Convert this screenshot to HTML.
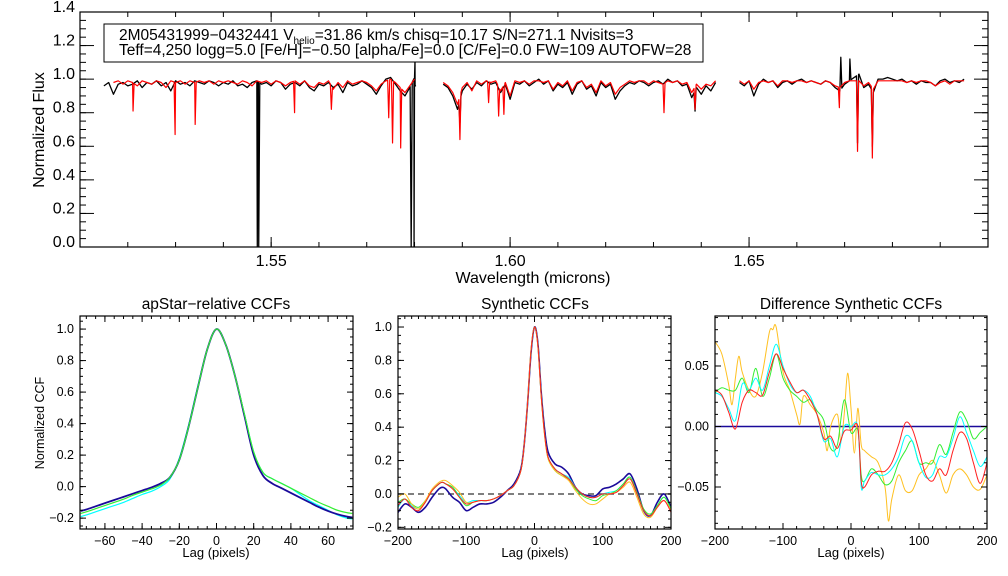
<!DOCTYPE html>
<html><head><meta charset="utf-8"><style>
html,body{margin:0;padding:0;background:#fff;}
svg{display:block;font-family:"Liberation Sans",Arial,sans-serif;}
</style></head><body>
<svg id="fig" width="1008" height="576" viewBox="0 0 1008 576" xmlns="http://www.w3.org/2000/svg">
<rect width="1008" height="576" fill="#fff"/>
<g id="infobox">
<rect x="104" y="24" width="599" height="38" fill="#fff" stroke="#000" stroke-width="1"/>
<text x="119" y="40" font-size="15.5">2M05431999−0432441  V<tspan font-size="10" dy="4">helio</tspan><tspan dy="-4">=31.86 km/s  chisq=10.17  S/N=271.1  Nvisits=3</tspan></text>
<text x="119" y="55" font-size="15.5">Teff=4,250 logg=5.0 [Fe/H]=−0.50 [alpha/Fe]=0.0 [C/Fe]=0.0 FW=109 AUTOFW=28</text>
</g>
<text x="0" y="0" font-size="16" text-anchor="middle" transform="translate(44,130) rotate(-90)">Normalized Flux</text>
<text x="533" y="283" font-size="16" text-anchor="middle">Wavelength (microns)</text>
<text x="216" y="309" font-size="15.5" text-anchor="middle">apStar−relative CCFs</text>
<text x="535" y="309" font-size="15.5" text-anchor="middle">Synthetic CCFs</text>
<text x="851" y="309" font-size="15.5" text-anchor="middle">Difference Synthetic CCFs</text>
<text x="0" y="0" font-size="12.5" text-anchor="middle" transform="translate(44,423) rotate(-90)">Normalized CCF</text>
<text x="216" y="557" font-size="13" text-anchor="middle">Lag (pixels)</text>
<text x="535" y="557" font-size="13" text-anchor="middle">Lag (pixels)</text>
<text x="851" y="557" font-size="13" text-anchor="middle">Lag (pixels)</text>
</svg>
<script>
// ---------- TOP SPECTRUM DATA ----------
const seg1Start = 1.515, seg2Start = 1.586, seg3Start = 1.648, gridStep = 0.001;
const obsSeg1 = [0.96,0.98,0.91,0.97,0.98,0.96,0.97,0.99,0.95,0.98,0.97,0.99,0.96,0.98,0.93,0.99,0.97,0.98,0.96,0.99,0.98,0.97,0.99,0.98,0.96,0.98,0.97,0.99,0.96,0.97,0.95,0.98,0.99,0.97,0.98,0.96,0.99,0.98,0.94,0.97,0.98,0.96,0.99,0.95,0.93,0.97,0.96,0.98,0.95,0.97,0.92,0.98,0.96,0.97,0.99,0.97,0.95,0.91,0.96,1.00,1.01,0.97,0.93,0.90,0.95,1.01];
const modSeg1 = [null,null,0.98,0.99,0.97,0.99,0.98,0.96,0.99,0.98,0.97,0.99,0.98,0.95,0.99,0.98,0.99,0.97,0.99,0.98,0.99,0.98,0.99,0.97,0.99,0.98,0.99,0.98,0.97,0.99,0.98,0.96,0.99,0.98,0.99,0.97,0.99,0.98,0.96,0.98,0.99,0.97,0.99,0.96,0.95,0.98,0.97,0.99,0.94,0.98,0.95,0.99,0.97,0.98,0.99,0.98,0.96,0.93,0.97,0.99,1.00,0.98,0.95,0.92,0.96,1.00];
const obsSeg2 = [0.97,0.95,0.90,0.82,0.93,0.97,0.94,0.98,0.96,0.99,0.97,0.98,0.92,0.97,0.88,0.98,0.97,0.99,0.96,0.98,1.00,0.97,0.99,0.93,0.97,0.95,0.98,0.91,0.97,0.99,0.94,0.96,0.90,0.98,0.95,0.97,0.88,0.93,0.96,0.98,0.97,0.99,0.98,0.96,0.98,0.99,0.97,1.00,0.98,0.99,0.96,0.97,0.89,0.95,0.91,0.96,0.93,0.98];
const modSeg2 = [0.98,0.96,0.92,0.85,0.95,0.98,0.93,0.99,0.97,0.99,0.98,0.99,0.93,0.98,0.90,0.99,0.98,0.99,0.97,0.99,0.99,0.98,0.99,0.94,0.98,0.96,0.99,0.93,0.98,0.99,0.95,0.97,0.92,0.99,0.96,0.98,0.91,0.95,0.97,0.99,0.98,0.99,0.99,0.97,0.99,0.98,0.97,0.99,0.98,0.99,0.97,0.98,0.92,0.97,0.94,0.97,0.96,0.99];
const obsSeg3 = [0.98,0.96,0.99,0.90,0.97,1.00,0.98,0.99,0.95,0.98,0.99,0.97,0.99,1.00,0.98,0.99,0.98,0.97,0.99,0.98,0.95,0.93,0.97,0.99,1.01,1.03,0.95,0.97,0.92,1.00,1.00,1.01,1.00,0.99,1.00,0.98,0.99,0.97,0.99,0.98,0.98,0.96,0.99,1.00,0.98,0.99,0.98,1.00];
const modSeg3 = [0.99,0.97,0.99,0.94,0.98,0.99,0.98,0.99,0.96,0.99,0.99,0.98,0.99,0.99,0.98,0.99,0.98,0.97,0.99,0.98,0.96,0.95,0.98,0.99,0.99,0.99,0.96,0.98,0.94,0.99,0.99,0.99,0.99,0.99,0.99,0.98,0.99,0.98,0.99,0.99,0.98,0.96,0.98,0.99,0.97,0.99,0.99,0.99];
const modLineWave = [1.5211,1.5299,1.5341,1.5549,1.5626,1.5746,1.5754,1.5771,1.5895,1.5955,1.5976,1.5987,1.6322,1.6387,1.6689,1.6727,1.6758];
const modLineDepth = [0.81,0.67,0.73,0.80,0.82,0.77,0.62,0.59,0.64,0.86,0.78,0.79,0.80,0.82,0.83,0.57,0.53];
const obsLineWave = [1.5471,1.5474,1.5793,1.5799,1.5801,1.5895,1.6387,1.6692,1.6711,1.6727,1.6758];
const obsLineDepth = [0.0,0.0,0.0,0.0,1.11,0.74,0.81,1.13,1.12,0.62,0.60];
const topXTicks = [1.55,1.60,1.65];
const topYTicks = [0.0,0.2,0.4,0.6,0.8,1.0,1.2,1.4];

// ---------- CCF PANEL 1 ----------
const lag1 = [-73,-70,-65,-60,-55,-50,-45,-40,-35,-30,-25,-20,-15,-10,-5,0,5,10,15,20,25,30,35,40,45,50,55,60,65,70,73];
const ccf1Navy = [-0.155,-0.145,-0.125,-0.105,-0.085,-0.065,-0.045,-0.025,-0.005,0.02,0.06,0.17,0.38,0.63,0.87,1.0,0.9,0.7,0.45,0.2,0.07,0.02,-0.01,-0.04,-0.07,-0.10,-0.13,-0.155,-0.175,-0.19,-0.195];
const ccf1Green = [-0.17,-0.16,-0.14,-0.12,-0.10,-0.08,-0.055,-0.035,-0.015,0.01,0.06,0.17,0.38,0.63,0.87,1.0,0.9,0.7,0.46,0.22,0.09,0.05,0.02,-0.01,-0.04,-0.07,-0.10,-0.125,-0.15,-0.165,-0.17];
const ccf1Cyan = [-0.19,-0.18,-0.16,-0.14,-0.12,-0.10,-0.075,-0.05,-0.03,0.0,0.05,0.18,0.39,0.64,0.87,1.0,0.9,0.7,0.46,0.22,0.09,0.05,0.02,-0.01,-0.05,-0.09,-0.12,-0.15,-0.18,-0.20,-0.205];
const ccf1XTicks = [-60,-40,-20,0,20,40,60];
const ccf1YTicks = [-0.2,0.0,0.2,0.4,0.6,0.8,1.0];

// ---------- CCF PANEL 2 ----------
const lag2 = [-200,-190,-180,-170,-160,-150,-140,-135,-130,-120,-110,-100,-90,-80,-70,-60,-50,-40,-30,-20,-15,-10,-5,0,5,10,15,20,30,40,50,60,70,80,90,100,110,120,130,140,150,160,170,180,190,200];
const ccf2Navy = [-0.11,-0.06,-0.08,-0.11,-0.08,-0.02,0.03,0.04,0.03,-0.02,-0.05,-0.10,-0.08,-0.06,-0.06,-0.05,-0.02,0.02,0.06,0.15,0.30,0.55,0.85,1.0,0.90,0.60,0.38,0.25,0.18,0.16,0.12,0.04,0.0,-0.01,-0.01,0.03,0.04,0.06,0.09,0.12,0.03,-0.10,-0.13,-0.05,0.0,-0.08];
const ccf2Cyan = [-0.08,-0.03,-0.07,-0.09,-0.05,0.02,0.06,0.07,0.06,0.04,-0.01,-0.05,-0.04,-0.04,-0.04,-0.03,-0.01,0.02,0.05,0.14,0.30,0.55,0.86,1.0,0.89,0.58,0.35,0.22,0.15,0.12,0.10,0.04,0.0,-0.02,-0.02,0.0,0.01,0.02,0.06,0.10,0.0,-0.10,-0.13,-0.07,-0.02,-0.09];
const ccf2Green = [-0.05,-0.03,-0.06,-0.08,-0.04,0.02,0.06,0.07,0.06,0.04,-0.02,-0.07,-0.05,-0.04,-0.04,-0.03,-0.01,0.02,0.05,0.14,0.30,0.55,0.86,1.0,0.89,0.58,0.35,0.21,0.14,0.11,0.09,0.03,-0.01,-0.03,-0.04,-0.01,0.0,0.02,0.06,0.10,0.01,-0.09,-0.12,-0.07,-0.02,-0.09];
const ccf2Yellow = [-0.02,0.0,-0.06,-0.09,-0.04,0.03,0.07,0.08,0.08,0.05,0.01,-0.05,-0.05,-0.04,-0.04,-0.03,-0.01,0.02,0.05,0.14,0.30,0.56,0.87,1.0,0.88,0.57,0.34,0.21,0.14,0.11,0.08,0.02,-0.03,-0.06,-0.06,-0.03,0.0,0.01,0.04,0.07,-0.02,-0.12,-0.14,-0.08,-0.04,-0.10];
const ccf2Red = [-0.07,-0.03,-0.08,-0.10,-0.05,0.02,0.06,0.07,0.06,0.03,-0.02,-0.06,-0.05,-0.04,-0.04,-0.03,-0.01,0.02,0.05,0.14,0.30,0.55,0.86,1.0,0.89,0.58,0.35,0.22,0.15,0.12,0.09,0.04,0.0,-0.02,-0.02,0.0,0.0,0.01,0.05,0.09,0.0,-0.10,-0.13,-0.08,-0.04,-0.11];
const ccf2XTicks = [-200,-100,0,100,200];
const ccf2YTicks = [-0.2,0.0,0.2,0.4,0.6,0.8,1.0];

// ---------- CCF PANEL 3 ----------
const lag3 = [-200,-190,-180,-170,-160,-150,-140,-130,-120,-110,-100,-90,-80,-70,-60,-50,-40,-30,-20,-10,0,10,15,20,30,40,50,60,70,80,90,100,110,120,130,140,150,160,170,180,190,200];
const diffRed = [0.030,0.026,0.012,-0.002,0.020,0.030,0.028,0.026,0.045,0.060,0.048,0.037,0.028,0.030,0.022,0.010,-0.010,-0.008,-0.018,-0.004,-0.003,0.000,-0.045,-0.050,-0.040,-0.037,-0.037,-0.030,-0.015,0.003,-0.002,-0.020,-0.040,-0.045,-0.035,-0.040,-0.020,-0.005,-0.010,-0.030,-0.047,-0.030];
const diffCyan = [0.028,0.025,0.015,0.005,0.035,0.030,0.040,0.030,0.050,0.068,0.050,0.035,0.028,0.030,0.025,0.010,-0.012,-0.010,-0.025,0.000,0.000,0.000,-0.050,-0.045,-0.038,-0.040,-0.040,-0.035,-0.025,-0.008,-0.012,-0.030,-0.042,-0.040,-0.025,-0.025,-0.010,0.008,-0.005,-0.020,-0.033,-0.025];
const diffGreen = [0.028,0.032,0.030,0.030,0.040,0.028,0.048,0.025,0.040,0.060,0.040,0.030,0.025,0.020,0.022,0.013,0.005,-0.018,-0.015,0.022,-0.005,-0.003,-0.040,-0.045,-0.035,-0.040,-0.048,-0.045,-0.030,-0.020,-0.012,-0.030,-0.030,-0.030,-0.015,-0.023,-0.005,0.012,0.005,-0.010,-0.005,0.000];
const lag3Yellow = [-200,-190,-180,-175,-170,-165,-160,-150,-140,-130,-120,-115,-110,-100,-90,-80,-75,-70,-60,-50,-40,-35,-30,-20,-15,-10,-5,0,5,10,15,20,30,40,50,55,60,70,80,90,100,110,120,130,140,150,160,170,180,190,200];
const diffYellow = [0.070,0.060,0.035,0.018,0.040,0.058,0.045,0.030,0.025,0.045,0.078,0.080,0.082,0.045,0.030,0.010,0.002,0.025,0.018,0.010,-0.005,-0.020,0.000,0.010,-0.012,0.010,0.044,0.015,-0.022,0.015,-0.015,-0.020,-0.025,-0.030,-0.050,-0.078,-0.060,-0.040,-0.053,-0.053,-0.040,-0.035,-0.028,-0.040,-0.055,-0.040,-0.035,-0.040,-0.050,-0.052,-0.040];
const diffNavy = [0,0];
const lag3Navy = [-200,200];
const ccf3XTicks = [-200,-100,0,100,200];
const ccf3YTicks = [-0.05,0.00,0.05];

// ---------- helpers ----------
const NS = "http://www.w3.org/2000/svg";
const svg = document.getElementById('fig');
function mk(tag, attrs, parent){ const e=document.createElementNS(NS,tag); for(const k in attrs) e.setAttribute(k,attrs[k]); (parent||svg).appendChild(e); return e; }

function axes(o){
  const sx = v => o.x0 + (v-o.xmin)/(o.xmax-o.xmin)*(o.x1-o.x0);
  const sy = v => o.y1 - (v-o.ymin)/(o.ymax-o.ymin)*(o.y1-o.y0);
  const g = mk('g',{});
  
  
  const clipId = o.name+'-clip';
  const cp = mk('clipPath',{id:clipId},g);
  mk('rect',{x:o.x0,y:o.y0,width:o.x1-o.x0,height:o.y1-o.y0},cp);
  const plot = mk('g',{'clip-path':'url(#'+clipId+')'},g);
  const tk = mk('g',{stroke:'#000','stroke-width':1},g);
  
  
  const eps=1e-9;
  for(let v=Math.ceil((o.xmin-eps)/o.xMinor)*o.xMinor; v<=o.xmax+eps; v+=o.xMinor){
    const x=sx(v); mk('line',{x1:x,x2:x,y1:o.y1,y2:o.y1-o.xMinLen},tk); mk('line',{x1:x,x2:x,y1:o.y0,y2:o.y0+o.xMinLen},tk);
  }
  for(let v=Math.ceil((o.ymin-eps)/o.yMinor)*o.yMinor; v<=o.ymax+eps; v+=o.yMinor){
    const y=sy(v); mk('line',{x1:o.x0,x2:o.x0+o.yMinLen,y1:y,y2:y},tk); mk('line',{x1:o.x1,x2:o.x1-o.yMinLen,y1:y,y2:y},tk);
  }
  o.xTicks.forEach(v=>{ const x=sx(v);
    mk('line',{x1:x,x2:x,y1:o.y1,y2:o.y1-o.xMajLen},tk); mk('line',{x1:x,x2:x,y1:o.y0,y2:o.y0+o.xMajLen},tk);
    const t=mk('text',{x:x,y:o.y1+o.xLabDy,'font-size':o.fs,'text-anchor':'middle'},g);
    
    
    t.textContent=o.xFmt(v);
  });
  o.yTicks.forEach(v=>{ const y=sy(v);
    mk('line',{x1:o.x0,x2:o.x0+o.yMajLen,y1:y,y2:y},tk); mk('line',{x1:o.x1,x2:o.x1-o.yMajLen,y1:y,y2:y},tk);
    const t=mk('text',{x:o.x0-o.yLabDx,y:y+o.yLabDy,'font-size':o.fs,'text-anchor':'end'},g);
    
    
    t.textContent=o.yFmt(v);
  });
  mk('rect',{x:o.x0,y:o.y0,width:o.x1-o.x0,height:o.y1-o.y0,fill:'none',stroke:'#000','stroke-width':1.2},g);
  return {sx,sy,plot};
}
const fmt = d => v => (v<0?'\u2212':'')+Math.abs(v).toFixed(d);
function line(ax, xs, ys, color, w, name, dash, smooth){
  const P=[];
  for(let i=0;i<xs.length;i++){ if(ys[i]!==null&&ys[i]!==undefined) P.push([ax.sx(xs[i]),ax.sy(ys[i])]); }
  let d='M'+P[0][0].toFixed(2)+','+P[0][1].toFixed(2);
  for(let i=1;i<P.length;i++){
    if(smooth){
      const p0=P[Math.max(0,i-2)],p1=P[i-1],p2=P[i],p3=P[Math.min(P.length-1,i+1)];
      const c1=[p1[0]+(p2[0]-p0[0])/6,p1[1]+(p2[1]-p0[1])/6], c2=[p2[0]-(p3[0]-p1[0])/6,p2[1]-(p3[1]-p1[1])/6];
      d+='C'+c1[0].toFixed(2)+','+c1[1].toFixed(2)+' '+c2[0].toFixed(2)+','+c2[1].toFixed(2)+' '+p2[0].toFixed(2)+','+p2[1].toFixed(2);
    } else d+='L'+P[i][0].toFixed(2)+','+P[i][1].toFixed(2);
  }
  const p=mk('path',{d:d,fill:'none',stroke:color,'stroke-width':w,'stroke-linejoin':'round'},ax.plot);
  if(dash) p.setAttribute('stroke-dasharray',dash);
  
  
}
function specPoints(start, vals, lw, ld){
  const pts=[];
  vals.forEach((v,i)=>{ if(v!==null) pts.push([start+i*gridStep, v]); });
  const lo=pts[0][0], hi=pts[pts.length-1][0];
  const base = w => { for(let i=0;i<pts.length-1;i++){ if(w>=pts[i][0]&&w<=pts[i+1][0]){ const f=(w-pts[i][0])/(pts[i+1][0]-pts[i][0]); return pts[i][1]+f*(pts[i+1][1]-pts[i][1]); } } return pts[0][1]; };
  const extra=[]; const hw=0.00022;
  lw.forEach((c,i)=>{ if(c>lo-0.0015 && c<hi+0.0015){ extra.push([c-hw,base(c-hw)],[c,ld[i]],[c+hw,base(c+hw)]); } });
  const all=pts.concat(extra).sort((a,b)=>a[0]-b[0]);
  return [all.map(p=>p[0]), all.map(p=>p[1])];
}

// ---------- top panel ----------
const topAx = axes({name:'spectrum-panel',x0:80,x1:988,y0:12,y1:247,xmin:1.51,xmax:1.70,ymin:0,ymax:1.4,
  xTicks:topXTicks,yTicks:topYTicks,xMinor:0.01,yMinor:0.05,xMajLen:10,xMinLen:5,yMajLen:14,yMinLen:6,
  xLabDy:19,yLabDx:5,yLabDy:0,fs:16,xFmt:fmt(2),yFmt:fmt(1)});
const segs=[[seg1Start,obsSeg1,modSeg1],[seg2Start,obsSeg2,modSeg2],[seg3Start,obsSeg3,modSeg3]];
segs.forEach((s,i)=>{
  const o=specPoints(s[0],s[1],obsLineWave,obsLineDepth);
  line(topAx,o[0],o[1],'#000',1.3,'observed-spectrum-seg'+(i+1));
});
segs.forEach((s,i)=>{
  const m=specPoints(s[0],s[2],modLineWave,modLineDepth);
  line(topAx,m[0],m[1],'#ff0000',1.2,'model-spectrum-seg'+(i+1));
});
svg.appendChild(document.getElementById('infobox'));

// ---------- panel 1 ----------
const ax1 = axes({name:'apstar-ccf-panel',x0:80,x1:353,y0:316,y1:529,xmin:-73.4,xmax:73.4,ymin:-0.269,ymax:1.083,
  xTicks:ccf1XTicks,yTicks:ccf1YTicks,xMinor:5,yMinor:0.05,xMajLen:6,xMinLen:3,yMajLen:6,yMinLen:3,
  xLabDy:16,yLabDx:6,yLabDy:4,fs:12.5,xFmt:v=>(v<0?'\u2212':'')+Math.abs(v),yFmt:fmt(1)});
line(ax1,lag1,ccf1Cyan,'#00ffff',1.2,'ccf1-cyan',null,true);
line(ax1,lag1,ccf1Navy,'#1a0a9a',1.8,'ccf1-navy',null,true);
line(ax1,lag1,ccf1Green,'#33ee33',1.2,'ccf1-green',null,true);

// ---------- panel 2 ----------
const ax2 = axes({name:'synthetic-ccf-panel',x0:398,x1:671,y0:316,y1:529,xmin:-200,xmax:200,ymin:-0.21,ymax:1.066,
  xTicks:ccf2XTicks,yTicks:ccf2YTicks,xMinor:10,yMinor:0.05,xMajLen:6,xMinLen:3,yMajLen:6,yMinLen:3,
  xLabDy:16,yLabDx:6,yLabDy:4,fs:12.5,xFmt:v=>(v<0?'\u2212':'')+Math.abs(v),yFmt:fmt(1)});
line(ax2,[-200,200],[0,0],'#555',1.5,'zero-dashed-line','6,4');
line(ax2,lag2,ccf2Navy,'#1a0a9a',1.6,'ccf2-navy',null,true);
line(ax2,lag2,ccf2Cyan,'#00ffff',1,'ccf2-cyan',null,true);
line(ax2,lag2,ccf2Green,'#33ee33',1,'ccf2-green',null,true);
line(ax2,lag2,ccf2Yellow,'#ffc020',1,'ccf2-yellow',null,true);
line(ax2,lag2,ccf2Red,'#ff2020',1,'ccf2-red',null,true);

// ---------- panel 3 ----------
const ax3 = axes({name:'difference-ccf-panel',x0:715,x1:987,y0:316,y1:529,xmin:-200,xmax:200,ymin:-0.0847,ymax:0.0913,
  xTicks:ccf3XTicks,yTicks:ccf3YTicks,xMinor:20,yMinor:0.01,xMajLen:6,xMinLen:3,yMajLen:6,yMinLen:3,
  xLabDy:16,yLabDx:6,yLabDy:4,fs:12.5,xFmt:v=>(v<0?'\u2212':'')+Math.abs(v),yFmt:fmt(2)});
line(ax3,lag3Navy,diffNavy,'#1a0a9a',1.4,'diff-navy-zero');
line(ax3,lag3Yellow,diffYellow,'#ffc020',1,'diff-yellow',null,true);
line(ax3,lag3,diffGreen,'#33ee33',1,'diff-green',null,true);
line(ax3,lag3,diffCyan,'#00ffff',1,'diff-cyan',null,true);
line(ax3,lag3,diffRed,'#ff2020',1,'diff-red',null,true);
</script>
</body></html>
